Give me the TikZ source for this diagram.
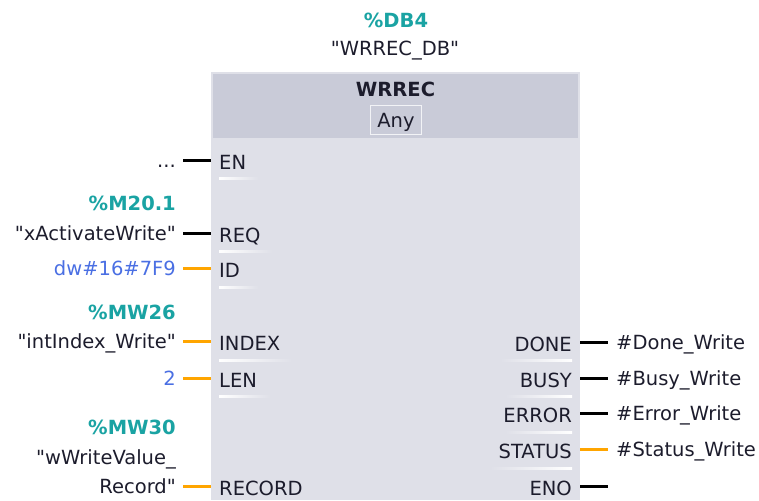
\documentclass[tikz,border=0pt]{standalone}
\usepackage{fontspec}
\setmainfont{DejaVu Sans}[Ligatures=TeXOff]
\usetikzlibrary{positioning,calc}
\definecolor{blkbody}{HTML}{DFE0E8}
\definecolor{blkhead}{HTML}{C9CBD8}
\definecolor{addrcol}{HTML}{1AA3A3}
\definecolor{constcol}{HTML}{4A6FE3}
\definecolor{wireor}{HTML}{FFA500}
\definecolor{pintxt}{HTML}{1C1C2C}

\begin{document}
\begin{tikzpicture}[x=1pt,y=-1pt,
	every node/.style={font=\fontsize{19.5}{22}\selectfont,text=pintxt,
		inner sep=0pt,text height=14pt,text depth=0pt},
	pinl/.style={anchor=west},
	pinr/.style={anchor=east},
	arg/.style={anchor=east,inner xsep=7pt},
	res/.style={anchor=west,inner xsep=8pt},
	adr/.style={anchor=east,text=addrcol,font=\fontsize{19.5}{22}\selectfont\bfseries},
	wire/.style={line width=3pt},
	boolw/.style={wire,black},
	dataw/.style={wire,wireor}]
	\useasboundingbox (0,0) rectangle (759,500);
	
	% instance DB
	\node[text=addrcol,font=\fontsize{19.5}{22}\selectfont\bfseries] (db-adr) at (396,21) {\%DB4};
	\node (db-name) at (395,49) {"WRREC\_DB"};
	
	% block body and header
	\node[fill=blkbody,minimum width=369pt,minimum height=428pt,anchor=north west] (blk) at (211,72) {};
	\fill[blkhead] (213,74) rectangle (578,138);
	\node[font=\fontsize{19.5}{22}\selectfont\bfseries] (blk-title) at (395.5,90) {WRREC};
	\node[draw=white!60!blkbody,line width=1.5pt,fill=blkhead,minimum width=51pt,minimum height=29pt] (blk-type) at (396,120) {Any};
	
	% input pins
	\node[pinl] (p-en) at (219,162) {EN};
	\node[pinl] (p-req) at (219,235) {REQ};
	\node[pinl] (p-id) at (219,270) {ID};
	\node[pinl] (p-index) at (219,343) {INDEX};
	\node[pinl] (p-len) at (219,380) {LEN};
	\node[pinl] (p-record) at (219,488) {RECORD};
	
	% output pins
	\node[pinr] (p-done) at (572,344) {DONE};
	\node[pinr] (p-busy) at (572,380) {BUSY};
	\node[pinr] (p-error) at (572,415) {ERROR};
	\node[pinr] (p-status) at (572,451) {STATUS};
	\node[pinr] (p-eno) at (572,488) {ENO};
	
	% faded separators under the pins
	\shade[left color=white,right color=blkbody] (219,177) rectangle (258,179);
	\shade[left color=white,right color=blkbody] (219,250) rectangle (272,252);
	\shade[left color=white,right color=blkbody] (219,286) rectangle (258,288);
	\shade[left color=white,right color=blkbody] (219,359) rectangle (292,361);
	\shade[left color=white,right color=blkbody] (219,395) rectangle (270,397);
	\shade[left color=blkbody,right color=white] (500,359) rectangle (572,361);
	\shade[left color=blkbody,right color=white] (505,395) rectangle (572,397);
	\shade[left color=blkbody,right color=white] (505,431) rectangle (572,433);
	\shade[left color=blkbody,right color=white] (490,467) rectangle (572,469);
	
	% actual parameters
	\node[arg] (a-en) at (183,160) {...};
	\node[adr] (adr-req) at (176,203) {\%M20.1};
	\node[arg] (a-req) at (183,233) {"xActivateWrite"};
	\node[arg,text=constcol] (a-id) at (183,268) {dw\#16\#7F9};
	\node[adr] (adr-index) at (176,312) {\%MW26};
	\node[arg] (a-index) at (183,341) {"intIndex\_Write"};
	\node[arg,text=constcol] (a-len) at (183,378) {2};
	\node[adr] (adr-record) at (176,427) {\%MW30};
	\node[arg] (a-record-1) at (183,457) {"wWriteValue\_};
	\node[arg] (a-record) at (183,486) {Record"};
	
	\node[res] (r-done) at (608,342) {\#Done\_Write};
	\node[res] (r-busy) at (608,378) {\#Busy\_Write};
	\node[res] (r-error) at (608,413) {\#Error\_Write};
	\node[res] (r-status) at (608,449) {\#Status\_Write};
	\coordinate (r-eno) at (608,486);
	
	% wires
	\draw[boolw] (a-en.east) -- (a-en.east -| blk.west);
	\draw[boolw] (a-req.east) -- (a-req.east -| blk.west);
	\draw[dataw] (a-id.east) -- (a-id.east -| blk.west);
	\draw[dataw] (a-index.east) -- (a-index.east -| blk.west);
	\draw[dataw] (a-len.east) -- (a-len.east -| blk.west);
	\draw[dataw] (a-record.east) -- (a-record.east -| blk.west);
	
	\draw[boolw] (r-done.west -| blk.east) -- (r-done.west);
	\draw[boolw] (r-busy.west -| blk.east) -- (r-busy.west);
	\draw[boolw] (r-error.west -| blk.east) -- (r-error.west);
	\draw[dataw] (r-status.west -| blk.east) -- (r-status.west);
	\draw[boolw] (r-eno -| blk.east) -- (r-eno);
\end{tikzpicture}
\end{document}
